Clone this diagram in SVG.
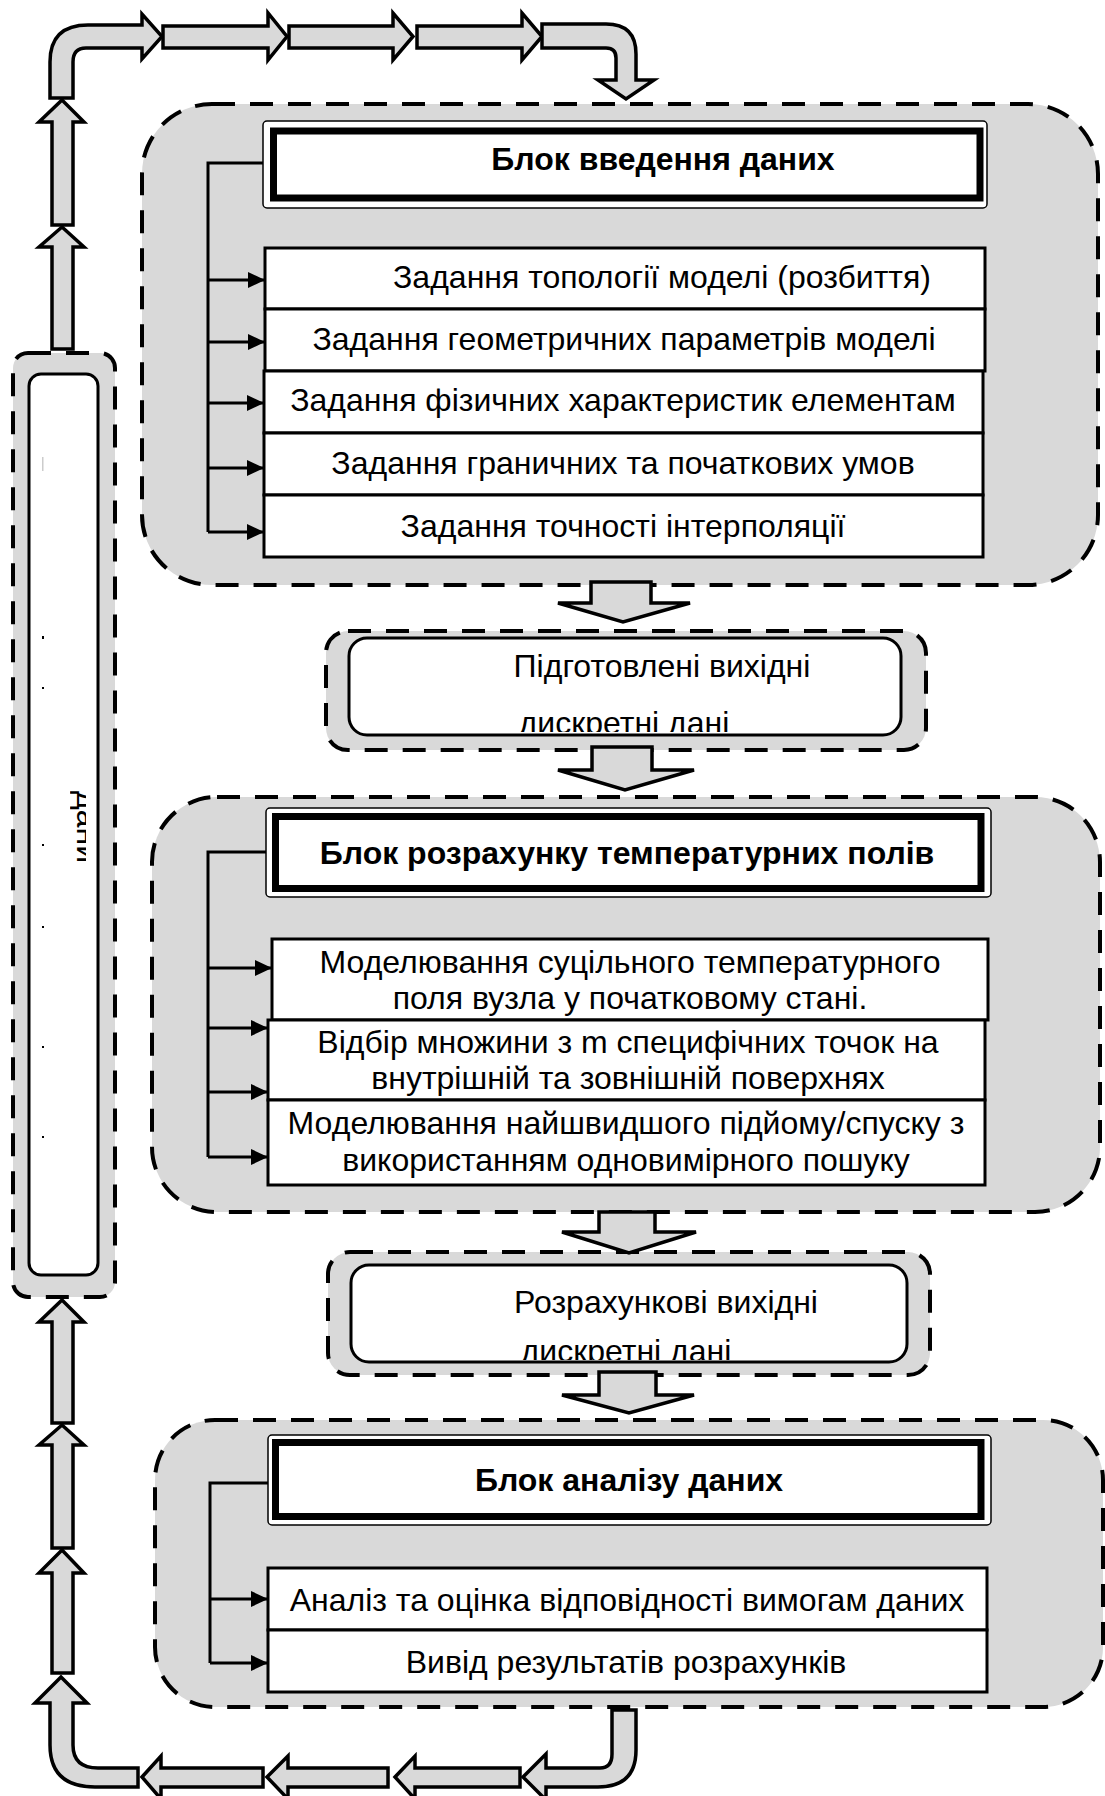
<svg xmlns="http://www.w3.org/2000/svg" width="1105" height="1796" viewBox="0 0 1105 1796">
<defs>
<style>
.blk{fill:#d9d9d9;stroke:#000;stroke-width:4;stroke-dasharray:23 15}
.arr{fill:#d9d9d9;stroke:#000;stroke-width:3.5;stroke-linejoin:miter}
.inr{fill:#fff;stroke:#000;stroke-width:3}
.itm{fill:#fff;stroke:#000;stroke-width:3}
.hdo{fill:#fff;stroke:#000;stroke-width:1.5}
.hdi{fill:none;stroke:#000;stroke-width:7}
.t{font-family:"Liberation Sans",Arial,sans-serif;font-size:32px;text-anchor:middle;fill:#000}
.b{font-weight:bold}
.ln{fill:none;stroke:#000;stroke-width:3}
</style>
<marker id="ah" markerUnits="userSpaceOnUse" markerWidth="18" markerHeight="16" refX="16" refY="8" orient="auto">
<path d="M0,0 L17,8 L0,16 Z" fill="#000"/>
</marker>
<clipPath id="c1"><rect x="349" y="638" width="552" height="94"/></clipPath>
<clipPath id="c2"><rect x="351" y="1265" width="556" height="95"/></clipPath>
<clipPath id="c3"><rect x="70" y="780" width="16" height="95"/></clipPath>
</defs>

<g id="left-column">
<rect class="blk" x="13" y="353" width="102" height="944" rx="15"/>
<rect class="inr" x="29" y="374" width="69" height="901" rx="12"/>
<g fill="#000">
<rect x="42" y="457" width="1.5" height="14" fill="#ccc"/>
<rect x="42" y="636" width="2" height="3"/>
<rect x="42" y="687" width="2" height="2"/>
<rect x="42" y="844" width="2" height="2"/>
<rect x="42" y="926" width="2" height="2"/>
<rect x="42" y="1046" width="2" height="2"/>
<rect x="42" y="1136" width="2" height="2"/>
</g>
<g clip-path="url(#c3)">
<text class="t" transform="translate(77,827) rotate(90)">дани</text>
</g>
</g>

<g id="block-input">
<rect class="blk" x="142" y="104" width="956" height="481" rx="70"/>
<g id="hdr-input">
<rect class="hdo" x="263" y="121" width="724" height="87" rx="4"/>
<rect class="hdi" x="273.5" y="131" width="706.5" height="67"/>
<text class="t b" x="663" y="170">Блок введення даних</text>
</g>
<g id="items-input">
<rect class="itm" x="265" y="248" width="720" height="61"/>
<rect class="itm" x="265" y="309" width="720" height="62"/>
<rect class="itm" x="264" y="371" width="719" height="62"/>
<rect class="itm" x="264" y="433" width="719" height="62"/>
<rect class="itm" x="264" y="495" width="719" height="62"/>
<text class="t" x="662" y="288">Задання топології моделі (розбиття)</text>
<text class="t" x="624" y="350">Задання геометричних параметрів моделі</text>
<text class="t" x="623" y="411">Задання фізичних характеристик елементам</text>
<text class="t" x="623" y="474">Задання граничних та початкових умов</text>
<text class="t" x="623" y="537">Задання точності інтерполяції</text>
</g>
</g>

<g id="box-prepared">
<rect class="blk" x="326" y="631" width="600" height="119" rx="22"/>
<rect class="inr" x="349" y="638" width="552" height="97" rx="18"/>
<text class="t" x="662" y="677">Підготовлені вихідні</text>
<text class="t" x="624" y="734" clip-path="url(#c1)">дискретні дані</text>
</g>

<g id="block-calc">
<rect class="blk" x="152" y="797" width="948" height="415" rx="65"/>
<g id="hdr-calc">
<rect class="hdo" x="266" y="808" width="725" height="89" rx="4"/>
<rect class="hdi" x="275.5" y="816.5" width="705.5" height="72"/>
<text class="t b" x="627" y="864">Блок розрахунку температурних полів</text>
</g>
<g id="items-calc">
<rect class="itm" x="272" y="939" width="716" height="81"/>
<rect class="itm" x="268" y="1020" width="717" height="80"/>
<rect class="itm" x="268" y="1100" width="717" height="85"/>
<text class="t" x="630" y="973">Моделювання суцільного температурного</text>
<text class="t" x="630" y="1009">поля вузла у початковому стані.</text>
<text class="t" x="628" y="1053">Відбір множини з m специфічних точок на</text>
<text class="t" x="628" y="1089">внутрішній та зовнішній поверхнях</text>
<text class="t" x="626" y="1134">Моделювання найшвидшого підйому/спуску з</text>
<text class="t" x="626" y="1171">використанням одновимірного пошуку</text>
</g>
</g>

<g id="box-computed">
<rect class="blk" x="328" y="1252" width="602" height="123" rx="22"/>
<rect class="inr" x="351" y="1265" width="556" height="97" rx="18"/>
<text class="t" x="666" y="1313">Розрахункові вихідні</text>
<text class="t" x="626" y="1362" clip-path="url(#c2)">дискретні дані</text>
</g>

<g id="block-analysis">
<rect class="blk" x="155" y="1420" width="948" height="287" rx="60"/>
<g id="hdr-analysis">
<rect class="hdo" x="268" y="1435" width="723" height="90" rx="4"/>
<rect class="hdi" x="275.5" y="1442.5" width="705.5" height="74"/>
<text class="t b" x="629" y="1491">Блок аналізу даних</text>
</g>
<g id="items-analysis">
<rect class="itm" x="268" y="1568" width="719" height="62"/>
<rect class="itm" x="268" y="1630" width="719" height="62"/>
<text class="t" x="627" y="1611">Аналіз та оцінка відповідності вимогам даних</text>
<text class="t" x="626" y="1673">Вивід результатів розрахунків</text>
</g>
</g>

<g id="connectors">
<g id="brackets">
<path class="ln" d="M263,163 H208 V532"/>
<path class="ln" d="M208,280 H264" marker-end="url(#ah)"/>
<path class="ln" d="M208,342 H264" marker-end="url(#ah)"/>
<path class="ln" d="M208,403 H263" marker-end="url(#ah)"/>
<path class="ln" d="M208,468 H263" marker-end="url(#ah)"/>
<path class="ln" d="M208,532 H263" marker-end="url(#ah)"/>
<path class="ln" d="M266,852 H208 V1157"/>
<path class="ln" d="M208,968 H271" marker-end="url(#ah)"/>
<path class="ln" d="M208,1028 H267" marker-end="url(#ah)"/>
<path class="ln" d="M208,1092 H267" marker-end="url(#ah)"/>
<path class="ln" d="M208,1157 H267" marker-end="url(#ah)"/>
<path class="ln" d="M268,1483 H210 V1663"/>
<path class="ln" d="M210,1599 H267" marker-end="url(#ah)"/>
<path class="ln" d="M210,1663 H267" marker-end="url(#ah)"/>
</g>
<g id="block-arrows">
<path class="arr" d="M591,582 H651 V603 H690 L623,622 L558,603 H591 Z"/>
<path class="arr" d="M592,747 H652 V770 H694 L625,790 L558,770 H592 Z"/>
<path class="arr" d="M599,1212 H655 V1232 H696 L629,1253 L562,1232 H599 Z"/>
<path class="arr" d="M599,1372 H656 V1395 H694 L629,1413 L562,1395 H599 Z"/>
</g>
<g id="loop-top">
<path class="arr" d="M50,98 V62 Q50,25 88,25 H142 V14 L162,36.5 L142,59 V48 H86 Q73,48 73,62 V98 Z"/>
<path class="arr" d="M163,26 H268 V13 L287,36.5 L268,60 V48 H163 Z"/>
<path class="arr" d="M289,26 H393 V13 L413,36.5 L393,60 V48 H289 Z"/>
<path class="arr" d="M417,26 H522 V13 L542,36.5 L522,60 V48 H417 Z"/>
<path class="arr" d="M542,24 H606 Q636,24 636,54 V80 H654 L626,99 L598,80 H616 V58 Q616,48 606,48 H542 Z"/>
</g>
<g id="loop-left">
<path class="arr" d="M62,100 L84,122 H73 V225 H52 V122 H39 Z"/>
<path class="arr" d="M62,227 L84,247 H73 V349 H52 V247 H39 Z"/>
<path class="arr" d="M62,1300 L84,1322 H73 V1423 H52 V1322 H39 Z"/>
<path class="arr" d="M62,1425 L84,1445 H73 V1548 H52 V1445 H39 Z"/>
<path class="arr" d="M62,1550 L84,1573 H73 V1673 H52 V1573 H39 Z"/>
</g>
<g id="loop-bottom">
<path class="arr" d="M61,1677 L87,1703 H73 V1745 Q73,1768 98,1768 H138 V1787 H95 Q50,1787 50,1745 V1703 H35 Z"/>
<path class="arr" d="M142,1777 L161,1756 V1768 H263 V1787 H161 V1799 Z"/>
<path class="arr" d="M267,1777 L288,1756 V1768 H388 V1787 H288 V1799 Z"/>
<path class="arr" d="M395,1777 L415,1756 V1768 H520 V1787 H415 V1799 Z"/>
<path class="arr" d="M523,1777 L546,1754 V1768 H600 Q612,1768 612,1754 V1710 H636 V1750 Q636,1787 598,1787 H546 V1800 Z"/>
</g>
</g>
</svg>
